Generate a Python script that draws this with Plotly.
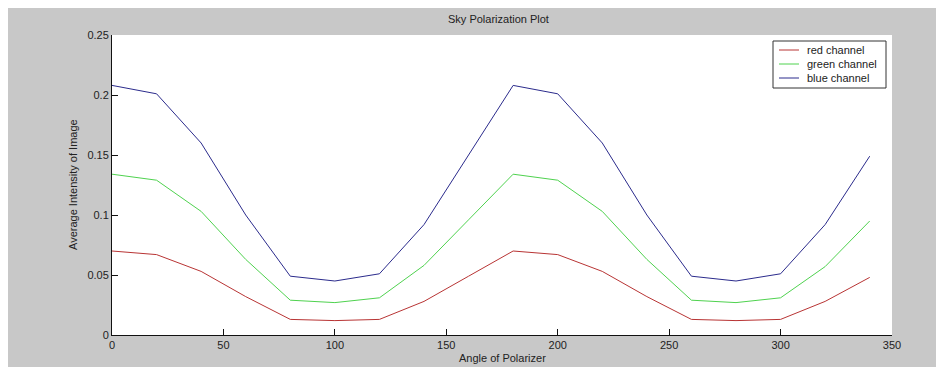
import plotly.graph_objects as go

angles = [0, 20, 40, 60, 80, 100, 120, 140, 160, 180, 200, 220, 240, 260, 280, 300, 320, 340]
red_vals = [0.070, 0.067, 0.053, 0.032, 0.013, 0.012, 0.013, 0.028, 0.049, 0.070, 0.067, 0.053, 0.032, 0.013, 0.012, 0.013, 0.028, 0.048]
green_vals = [0.134, 0.129, 0.103, 0.063, 0.029, 0.027, 0.031, 0.058, 0.096, 0.134, 0.129, 0.103, 0.063, 0.029, 0.027, 0.031, 0.057, 0.095]
blue_vals = [0.208, 0.201, 0.160, 0.100, 0.049, 0.045, 0.051, 0.092, 0.150, 0.208, 0.201, 0.160, 0.100, 0.049, 0.045, 0.051, 0.092, 0.149]
series_names = ["red channel", "green channel", "blue channel"]
x_ticks = [0, 50, 100, 150, 200, 250, 300, 350]
y_ticks = [0, 0.05, 0.1, 0.15, 0.2, 0.25]
y_tick_labels = ["0", "0.05", "0.1", "0.15", "0.2", "0.25"]

FONT = "Liberation Sans, Arial, sans-serif"
OFF = 8  # page body margin
W, H = 936, 359
L, R, T, B = 104, 52, 27, 32
pw, ph = W - L - R, H - T - B

def px_x(p):
    return (p - OFF - L) / pw

def px_y(p):
    return (H - B - (p - OFF)) / ph

fig = go.Figure()
colors = ["#b83434", "#4fd24f", "#2b2b8c"]
for name, vals, c in zip(series_names, [red_vals, green_vals, blue_vals], colors):
    fig.add_trace(go.Scatter(x=angles, y=vals, mode="lines", name=name,
                             line=dict(color=c, width=1), showlegend=False))

# legend drawn as box + sample lines + labels
shapes = [dict(type="rect", xref="paper", yref="paper",
               x0=px_x(773), x1=px_x(886), y0=px_y(88), y1=px_y(41),
               fillcolor="white", line=dict(color="#333", width=1))]
annotations = []
for i, (name, c) in enumerate(zip(series_names, colors)):
    yy = 50 + i * 14
    shapes.append(dict(type="line", xref="paper", yref="paper",
                       x0=px_x(779), x1=px_x(799), y0=px_y(yy), y1=px_y(yy),
                       line=dict(color=c, width=1)))
    annotations.append(dict(text=name, xref="paper", yref="paper",
                            x=px_x(805), y=px_y(yy), xanchor="left", yanchor="middle",
                            showarrow=False,
                            font=dict(family=FONT, size=11, color="#222")))

annotations += [
    dict(text="Sky Polarization Plot", xref="paper", yref="paper",
         x=px_x(498), y=px_y(19), xanchor="center", yanchor="middle",
         showarrow=False, font=dict(family=FONT, size=11, color="#222")),
    dict(text="Angle of Polarizer", xref="paper", yref="paper",
         x=px_x(502), y=px_y(358), xanchor="center", yanchor="middle",
         showarrow=False, font=dict(family=FONT, size=11, color="#222")),
    dict(text="Average Intensity of Image", xref="paper", yref="paper",
         x=px_x(73), y=px_y(185), xanchor="center", yanchor="middle",
         textangle=-90, showarrow=False,
         font=dict(family=FONT, size=11, color="#222")),
]

fig.update_layout(
    width=W, height=H,
    margin=dict(l=L, r=R, t=T, b=B),
    paper_bgcolor="#c8c8c8", plot_bgcolor="white",
    font=dict(family=FONT, size=11, color="#222"),
    showlegend=False,
    shapes=shapes,
    annotations=annotations,
)
fig.update_xaxes(range=[0, 350], tickvals=x_ticks, ticks="inside", ticklen=6,
                 tickcolor="#111", showline=True, linecolor="#111", linewidth=1,
                 showgrid=False, zeroline=False, mirror=False,
                 tickfont=dict(family=FONT, size=11, color="#222"))
fig.update_yaxes(range=[0, 0.25], tickvals=y_ticks, ticktext=y_tick_labels,
                 ticks="inside", ticklen=6, tickcolor="#111", showline=True,
                 linecolor="#111", linewidth=1, showgrid=False, zeroline=False,
                 mirror=False, tickfont=dict(family=FONT, size=11, color="#222"))

fig.write_html("out.html")
